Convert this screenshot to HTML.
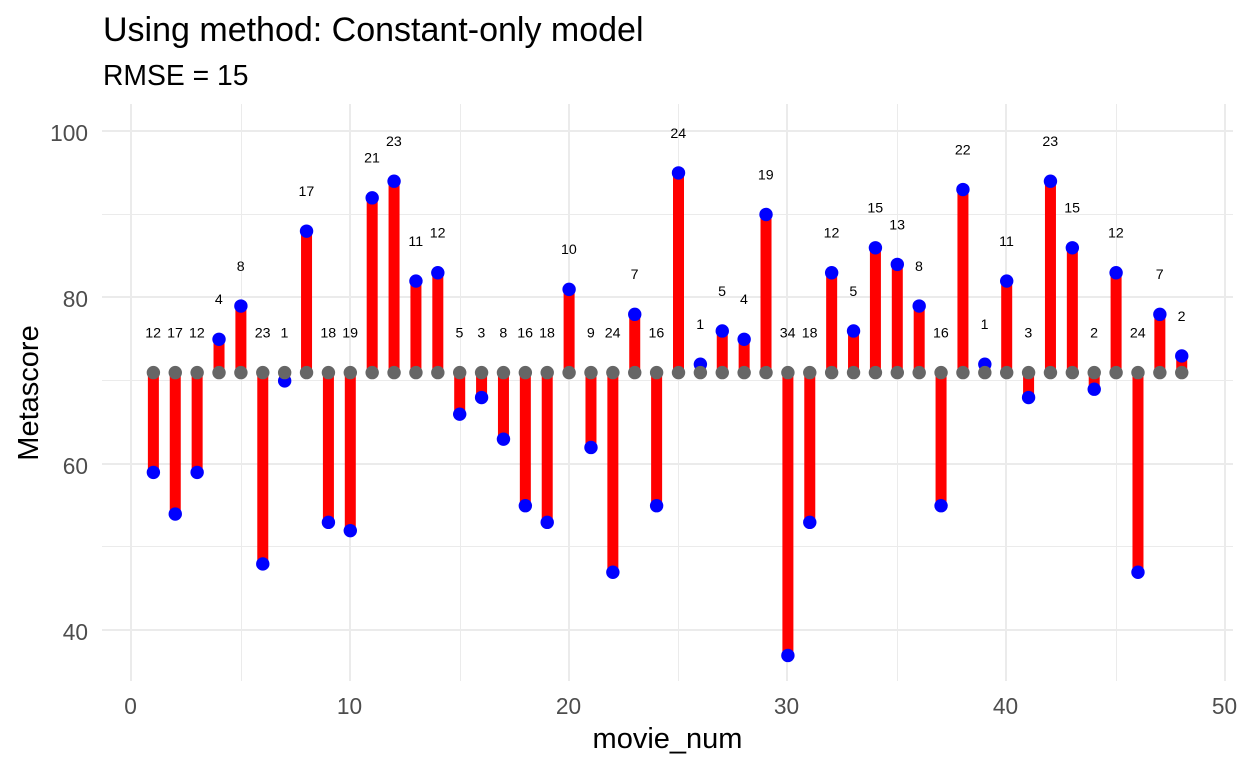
<!DOCTYPE html>
<html>
<head>
<meta charset="utf-8">
<style>
html,body{margin:0;padding:0;background:#fff;width:1248px;height:768px;overflow:hidden}
svg{display:block}
text{font-family:"Liberation Sans",Arial,sans-serif}
</style>
</head>
<body>
<svg id="chart" width="1248" height="768" viewBox="0 0 1248 768" xmlns="http://www.w3.org/2000/svg">
  <rect width="1248" height="768" fill="#fff"/>
  <g id="grid"></g>
  <g id="segments"></g>
  <g id="actual"></g>
  <g id="mean"></g>
  <g id="labels"></g>
  <g id="ticks"></g>
  <text x="103" y="41" font-size="34" fill="#000">Using method: Constant-only model</text>
  <text x="103" y="85" font-size="28.3" fill="#000">RMSE = 15</text>
  <text x="667.5" y="748" font-size="29" text-anchor="middle" fill="#000">movie_num</text>
  <text transform="translate(38,393) rotate(-90)" font-size="29" text-anchor="middle" fill="#000">Metascore</text>
</svg>
<script>
const movieNums = [1,2,3,4,5,6,7,8,9,10,11,12,13,14,15,16,17,18,19,20,21,22,23,24,25,26,27,28,29,30,31,32,33,34,35,36,37,38,39,40,41,42,43,44,45,46,47,48];
const metascores = [59,54,59,75,79,48,70,88,53,52,92,94,82,83,66,68,63,55,53,81,62,47,78,55,95,72,76,75,90,37,53,83,76,86,84,79,55,93,72,82,68,94,86,69,83,47,78,73];
const residualLabels = [12,17,12,4,8,23,1,17,18,19,21,23,11,12,5,3,8,16,18,10,9,24,7,16,24,1,5,4,19,34,18,12,5,15,13,8,16,22,1,11,3,23,15,2,12,24,7,2];
const meanScore = 71;
const xMajorTicks = [0,10,20,30,40,50];
const xMinorTicks = [5,15,25,35,45];
const yMajorTicks = [40,60,80,100];
const yMinorTicks = [50,70,90];
const labelOffset = 4.8;

const SVGNS = 'http://www.w3.org/2000/svg';
const panel = {left:102, right:1233, top:104, bottom:681};
function xScale(v){ return 131 + (v - 0) * 21.88; }
function yScale(v){ return 630.5 - (v - 40) * 8.32; }
function make(tag, attrs, parent){
  const el = document.createElementNS(SVGNS, tag);
  for (const k in attrs) el.setAttribute(k, attrs[k]);
  parent.appendChild(el);
  return el;
}
const grid = document.getElementById('grid');
const segments = document.getElementById('segments');
const actual = document.getElementById('actual');
const mean = document.getElementById('mean');
const labels = document.getElementById('labels');
const ticks = document.getElementById('ticks');

yMinorTicks.forEach(function(t){
  const y = Math.floor(yScale(t) - 0.5) + 0.5;
  const el = make('line', {x1:panel.left, x2:panel.right, y1:y, y2:y, stroke:'#ebebeb', 'stroke-width':1}, grid);
  
  
});
xMinorTicks.forEach(function(t){
  const x = Math.ceil(xScale(t)) + 0.5;
  const el = make('line', {x1:x, x2:x, y1:panel.top, y2:panel.bottom, stroke:'#ebebeb', 'stroke-width':1}, grid);
  
  
});
yMajorTicks.forEach(function(t){
  const y = Math.round(yScale(t) - 0.5);
  const el = make('line', {x1:panel.left, x2:panel.right, y1:y, y2:y, stroke:'#ebebeb', 'stroke-width':2}, grid);
  
  
  const lab = make('text', {x:88, y:y + 10, 'font-size':22.7, 'text-anchor':'end', fill:'#4d4d4d'}, ticks);
  lab.textContent = t;
  
  
});
xMajorTicks.forEach(function(t){
  const x = Math.round(xScale(t));
  const el = make('line', {x1:x, x2:x, y1:panel.top, y2:panel.bottom, stroke:'#ebebeb', 'stroke-width':2}, grid);
  
  
  const lab = make('text', {x:x - 0.5, y:714, 'font-size':22.7, 'text-anchor':'middle', fill:'#4d4d4d'}, ticks);
  lab.textContent = t;
  
  
});
movieNums.forEach(function(n, i){
  const v = metascores[i];
  const cx = xScale(n) + 0.5;
  const seg = make('line', {x1:cx, x2:cx, y1:yScale(meanScore), y2:yScale(v), stroke:'#ff0000', 'stroke-width':11}, segments);
  
  
  const a = make('circle', {cx:cx, cy:yScale(v), r:6.7, fill:'#0000ff'}, actual);
  
  
  const m = make('circle', {cx:cx, cy:yScale(meanScore), r:6.7, fill:'#666666'}, mean);
  
  
  const t = make('text', {x:xScale(n) + 0.3, y:yScale(Math.max(v, meanScore) + labelOffset) + 4.8, 'font-size':14.2, 'text-anchor':'middle', fill:'#000'}, labels);
  t.textContent = residualLabels[i];
  
  
});
</script>
</body>
</html>
